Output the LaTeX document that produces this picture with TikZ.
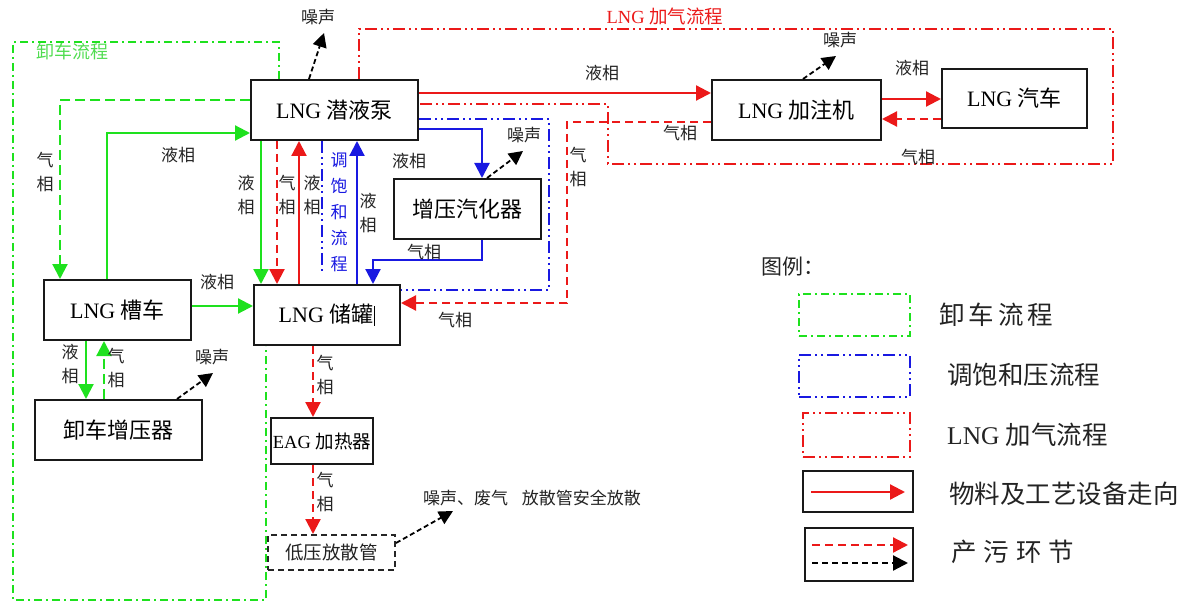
\documentclass[tikz,border=0pt]{standalone}
\usepackage{fontspec}
\setmainfont{Liberation Serif}
\newfontfamily\cjk{Noto Sans CJK SC}
\usetikzlibrary{arrows.meta,calc}
\definecolor{gr}{RGB}{30,225,30}
\definecolor{grl}{RGB}{80,220,80}
\definecolor{rd}{RGB}{235,25,25}
\definecolor{bl}{RGB}{25,25,225}
\definecolor{tx}{RGB}{35,35,35}
\tikzset{
 every node/.style={inner sep=0pt},
 box/.style={draw=black!90, line width=2pt, font=\fontsize{22}{24}\selectfont},
 lbl/.style={font=\cjk\fontsize{17}{24}\selectfont, text=tx, align=center},
 leg/.style={font=\fontsize{25.5}{28}\selectfont, text=tx, anchor=west},
 tipa/.style={-{Triangle[length=15pt,width=15pt]}},
 gsolid/.style={gr, line width=2.2pt, tipa},
 gdashed/.style={gr, line width=2.2pt, tipa, dash pattern=on 10pt off 5pt},
 rsolid/.style={rd, line width=2.2pt, tipa},
 rdashed/.style={rd, line width=2.2pt, tipa, dash pattern=on 8pt off 5pt},
 kdashed/.style={black, line width=2.2pt, tipa, dash pattern=on 6pt off 4pt},
 bsolid/.style={bl, line width=2.2pt, tipa},
 gdd/.style={gr, line width=2pt, dash pattern=on 8pt off 4pt on 2pt off 4pt},
 rdd/.style={rd, line width=2pt, dash pattern=on 12pt off 4pt on 2pt off 4pt on 2pt off 4pt},
 bdd/.style={bl, line width=2pt, dash pattern=on 12pt off 4pt on 2pt off 4pt on 2pt off 4pt},
 noise/.style={black, line width=1.8pt, dash pattern=on 5pt off 3pt, -{Triangle[length=14pt,width=14pt]}},
}
\begin{document}
\begin{tikzpicture}[x=1pt,y=-1pt]
\useasboundingbox (0,0) rectangle (1194,604);

% ---------- boxes ----------
\node[box, minimum width=167pt, minimum height=60pt] (pump) at (334.5,110) {LNG {\cjk 潜液泵}};
\node[box, minimum width=146pt, minimum height=60pt] (tank) at (327,315) {LNG {\cjk 储罐}\hspace{1pt}\rule[-3pt]{0.8pt}{20pt}};
\node[box, minimum width=147pt, minimum height=60pt] (truck) at (117.5,310) {LNG {\cjk 槽车}};
\node[box, minimum width=167pt, minimum height=60pt] (boost) at (118.5,430) {\cjk 卸车增压器};
\node[box, minimum width=147pt, minimum height=60pt] (vap) at (467.5,209) {\cjk 增压汽化器};
\node[box, minimum width=102pt, minimum height=46pt, font=\fontsize{18.5}{22}\selectfont] (eag) at (322,441) {EAG {\cjk 加热器}};
\node[box, draw=black!85, dash pattern=on 6pt off 4pt, minimum width=127pt, minimum height=35pt, font=\cjk\fontsize{18.5}{22}\selectfont, text=tx] (vent) at (331.5,552.5) {低压放散管};
\node[box, minimum width=169pt, minimum height=60pt] (disp) at (796.5,110) {LNG {\cjk 加注机}};
\node[box, minimum width=145pt, minimum height=59pt] (car) at (1014.5,98.5) {LNG {\cjk 汽车}};

% ---------- process outlines ----------
\coordinate (gA) at (279,42); \coordinate (gB) at (13,42);
\coordinate (gC) at (13,600); \coordinate (gD) at (266,600);
\draw[gdd] (pump.north -| gA) -- (gA) -- (gB) -- (gC) -- (gD) -- (tank.south -| gD);
\node[font=\cjk\fontsize{18}{22}\selectfont, text=grl] (gtitle) at (72,52) {卸车流程};

\coordinate (rA) at (359,29); \coordinate (rB) at (1113,29);
\coordinate (rC) at (1113,164); \coordinate (rD) at (608,164); \coordinate (rE) at (608,104);
\draw[rdd] (pump.north -| rA) -- (rA) -- (rB) -- (rC) -- (rD) -- (rE) -- (pump.east |- rE);
\node[font=\fontsize{18.5}{22}\selectfont, text=rd] (rtitle) at (665,16) {LNG {\cjk 加气流程}};

\coordinate (b10) at (549,119); \coordinate (b11) at (549,290);
\draw[bdd] (pump.east |- b10) -- (b10) -- (b11) -- (tank.east |- b11);
\coordinate (xb0) at (322,273);
\draw[bdd] (pump.south -| xb0) -- (xb0);

% ---------- green connectors ----------
\coordinate (xg1) at (60,100);
\draw[gdashed] (pump.west |- xg1) -| (truck.north -| xg1);
\coordinate (xg2) at (107,133);
\draw[gsolid] (truck.north -| xg2) |- (pump.west |- xg2);
\coordinate (yg3) at (0,306);
\draw[gsolid] (truck.east |- yg3) -- (tank.west |- yg3);
\coordinate (xg4) at (86,0);
\draw[gsolid] (truck.south -| xg4) -- (boost.north -| xg4);
\coordinate (xg5) at (104,0);
\draw[gdashed] (boost.north -| xg5) -- (truck.south -| xg5);
\coordinate (xg6) at (261,0);
\draw[gsolid] (pump.south -| xg6) -- (tank.north -| xg6);

% ---------- red connectors ----------
\coordinate (xr1) at (277,0);
\draw[rdashed] (pump.south -| xr1) -- (tank.north -| xr1);
\coordinate (xr2) at (299,0);
\draw[rsolid] (tank.north -| xr2) -- (pump.south -| xr2);
\coordinate (xr3) at (313,0);
\draw[rdashed] (tank.south -| xr3) -- (eag.north -| xr3);
\draw[rdashed] (eag.south -| xr3) -- (vent.north -| xr3);
\coordinate (yr4) at (0,93);
\draw[rsolid] (pump.east |- yr4) -- (disp.west |- yr4);
\coordinate (yr5) at (0,99);
\draw[rsolid] (disp.east |- yr5) -- (car.west |- yr5);
\coordinate (yr6) at (0,119);
\draw[rdashed] (car.west |- yr6) -- (disp.east |- yr6);
\coordinate (r7a) at (567,122); \coordinate (r7b) at (567,303);
\draw[rdashed] (disp.west |- r7a) -- (r7a) -- (r7b) -- (tank.east |- r7b);

% ---------- blue connectors ----------
\coordinate (xb1) at (357,0);
\draw[bsolid] (tank.north -| xb1) -- (pump.south -| xb1);
\coordinate (b8) at (482,129);
\draw[bsolid] (pump.east |- b8) -| (vap.north -| b8);
\coordinate (b9) at (373,260);
\draw[bsolid] (vap.south -| b8) |- (b9) -- (tank.north -| b9);

% ---------- noise ----------
\coordinate (n1s) at (309,0); \coordinate (n1) at (324,33);
\draw[noise] (pump.north -| n1s) -- (n1);
\node[lbl] (n1t) at (318,17) {噪声};
\coordinate (n2s) at (803,0); \coordinate (n2) at (836,56);
\draw[noise] (disp.north -| n2s) -- (n2);
\node[lbl] (n2t) at (840,40) {噪声};
\coordinate (n3s) at (487,0); \coordinate (n3) at (523,151);
\draw[noise] (vap.north -| n3s) -- (n3);
\node[lbl] (n3t) at (524,135) {噪声};
\coordinate (n4s) at (177,0); \coordinate (n4) at (213,373);
\draw[noise] (boost.north -| n4s) -- (n4);
\node[lbl] (n4t) at (212,357) {噪声};
\coordinate (n5s) at (0,543); \coordinate (n5) at (453,511);
\draw[noise] (vent.east |- n5s) -- (n5);
\node[lbl] (n5t) at (532,498) {噪声、废气\hspace{0.8em}放散管安全放散};

% ---------- flow labels ----------
\node[lbl] at (178,155) {液相};
\node[lbl] at (45,172) {气\\相};
\node[lbl] at (246,195) {液\\相};
\node[lbl] at (287,195) {气\\相};
\node[lbl] at (312,195) {液\\相};
\node[lbl, text=bl, font=\cjk\fontsize{17}{26}\selectfont] at (339,212) {调\\饱\\和\\流\\程};
\node[lbl] at (368,213) {液\\相};
\node[lbl] at (217,282) {液相};
\node[lbl] at (70,364) {液\\相};
\node[lbl] at (116,368) {气\\相};
\node[lbl] at (602,73) {液相};
\node[lbl] at (409,161) {液相};
\node[lbl] at (424,252) {气相};
\node[lbl] at (578,167) {气\\相};
\node[lbl] at (455,320) {气相};
\node[lbl] at (680,133) {气相};
\node[lbl] at (912,68) {液相};
\node[lbl] at (918,157) {气相};
\node[lbl] at (325,375) {气\\相};
\node[lbl] at (325,492) {气\\相};

% ---------- legend ----------
\node[font=\cjk\fontsize{21}{24}\selectfont, text=tx, anchor=west] (legt) at (761,267) {图例：};
\node[gdd, draw=gr, minimum width=111pt, minimum height=42pt] (lg1) at (854.5,315) {};
\node[leg, font=\cjk\fontsize{25.5}{28}\selectfont] (lt1) at (939,315) {卸\hspace{4pt}车\hspace{4pt}流\hspace{4pt}程};
\node[bdd, draw=bl, minimum width=111pt, minimum height=42pt] (lg2) at (854.5,376) {};
\node[leg, font=\cjk\fontsize{25.5}{28}\selectfont] (lt2) at (947,375) {调饱和压流程};
\node[rdd, draw=rd, minimum width=107pt, minimum height=44pt] (lg3) at (856.5,435) {};
\node[leg] (lt3) at (947,435) {LNG {\cjk 加气流程}};
\node[draw=black!90, line width=2pt, minimum width=110pt, minimum height=41pt] (lg4) at (858,491.5) {};
\coordinate (la1) at (811,492); \coordinate (la2) at (905,492);
\draw[rsolid] (la1) -- (la2);
\node[leg, font=\cjk\fontsize{25.5}{28}\selectfont] (lt4) at (949,494) {物料及工艺设备走向};
\node[draw=black!90, line width=2pt, minimum width=108pt, minimum height=53pt] (lg5) at (859,554.5) {};
\coordinate (lb1) at (812,545); \coordinate (lb2) at (908,545);
\draw[rdashed] (lb1) -- (lb2);
\coordinate (lc1) at (812,563); \coordinate (lc2) at (908,563);
\draw[kdashed] (lc1) -- (lc2);
\node[leg, font=\cjk\fontsize{25.5}{28}\selectfont] (lt5) at (951,552) {产\hspace{7pt}污\hspace{7pt}环\hspace{7pt}节};
\end{tikzpicture}
\end{document}
